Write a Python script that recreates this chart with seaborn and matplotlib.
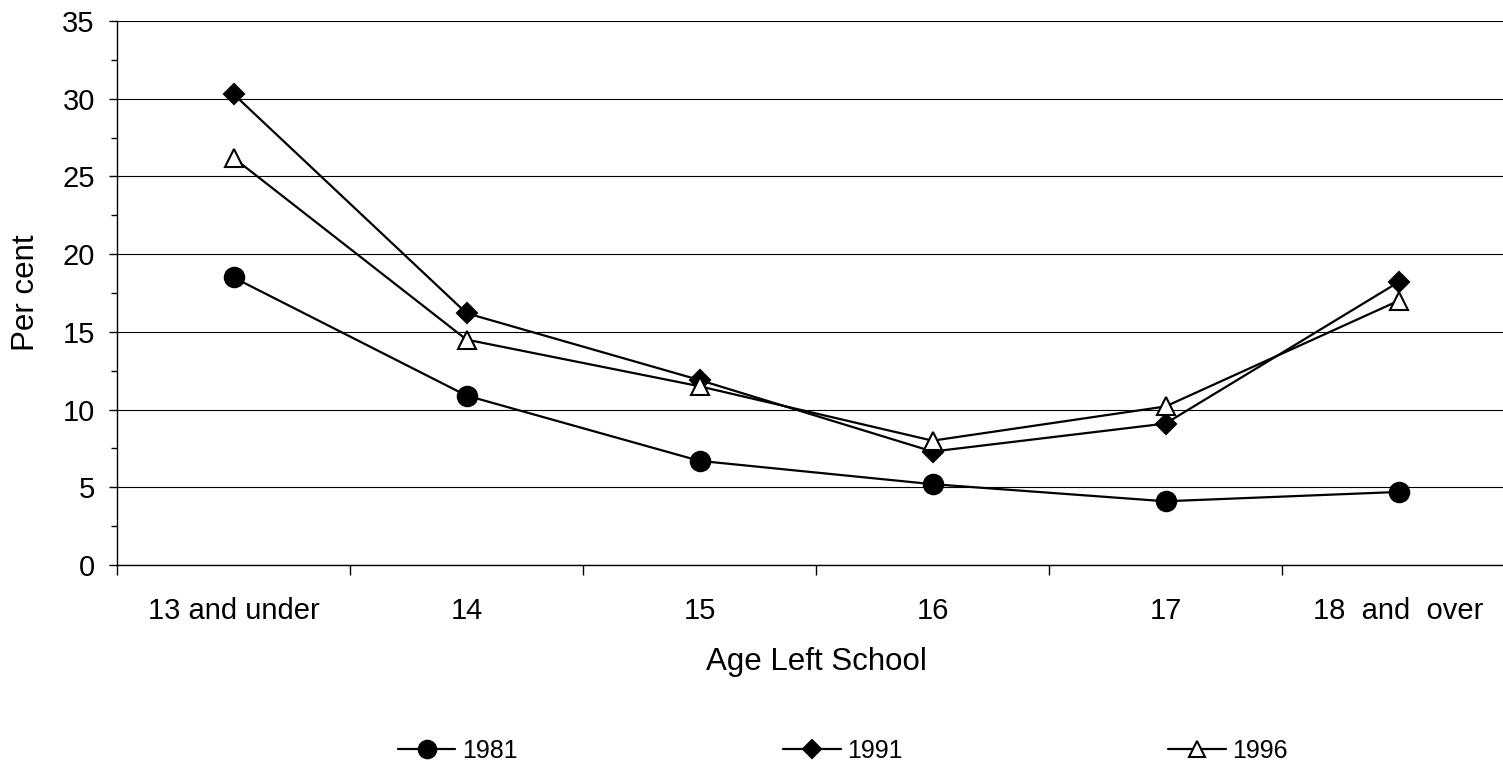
import numpy as np
import pandas as pd
import matplotlib
matplotlib.use("Agg")
import matplotlib.pyplot as plt
import seaborn as sns
from matplotlib.ticker import MultipleLocator, FixedLocator

categories = ["13 and under", "14", "15", "16", "17", "18  and  over"]
years = ["1981", "1991", "1996"]
pct_1981 = [18.5, 10.9, 6.7, 5.2, 4.1, 4.7]
pct_1991 = [30.3, 16.2, 11.9, 7.3, 9.1, 18.2]
pct_1996 = [26.2, 14.5, 11.5, 8.0, 10.2, 17.0]

frames = []
for yr, vals in zip(years, [pct_1981, pct_1991, pct_1996]):
    frames.append(pd.DataFrame({"age": np.arange(len(categories)),
                                "pct": vals, "year": yr}))
df = pd.concat(frames, ignore_index=True)

sns.set_theme(style="white")
plt.rcParams["font.family"] = ["Liberation Sans", "DejaVu Sans"]
plt.rcParams["text.color"] = "black"

fig = plt.figure(figsize=(15.03, 7.73), dpi=100)
ax = fig.add_axes([117 / 1503, 1 - 565 / 773, 1398 / 1503, 544 / 773])

marker_style = {
    "1981": dict(marker="o", markersize=14, markerfacecolor="black"),
    "1991": dict(marker="D", markersize=10, markerfacecolor="black"),
    "1996": dict(marker="^", markersize=13, markerfacecolor="white"),
}
for yr in years:
    sns.lineplot(data=df[df["year"] == yr], x="age", y="pct", ax=ax,
                 color="black", linewidth=1.6, markeredgecolor="black",
                 markeredgewidth=1.5, label=yr, zorder=3,
                 **marker_style[yr])

ax.set_xlim(-0.5, len(categories) - 0.5)
ax.set_ylim(0, 35)

# boundaries between categories carry the tick marks, labels sit at centres
ax.xaxis.set_major_locator(FixedLocator(np.arange(-0.5, len(categories), 1.0)))
ax.xaxis.set_minor_locator(FixedLocator(np.arange(len(categories))))
ax.set_xticklabels([], minor=False)
ax.set_xticklabels(categories, minor=True)
ax.tick_params(axis="x", which="major", direction="out", length=7, width=1,
               color="black", bottom=True)
ax.tick_params(axis="x", which="minor", length=0, pad=23, labelsize=21,
               labelcolor="black")

ax.yaxis.set_major_locator(MultipleLocator(5))
ax.yaxis.set_minor_locator(MultipleLocator(2.5))
ax.tick_params(axis="y", which="major", direction="out", length=6, width=1,
               color="black", left=True, pad=10, labelsize=21, labelcolor="black")
ax.tick_params(axis="y", which="minor", direction="out", length=4.3, width=1,
               color="black", left=True)

ax.grid(axis="y", which="major", color="black", linewidth=0.8)
ax.set_axisbelow(True)
for side in ["top", "right"]:
    ax.spines[side].set_visible(False)
for side in ["left", "bottom"]:
    ax.spines[side].set_color("black")
    ax.spines[side].set_linewidth(1.0)

ax.set_xlabel("Age Left School", fontsize=22.5, color="black", labelpad=16)
ax.set_ylabel("Per cent", fontsize=22.5, color="black", labelpad=15)

handles, labels = ax.get_legend_handles_labels()
ax.legend(handles, labels, loc="center", bbox_to_anchor=(843 / 1503, 1 - 751 / 773),
          bbox_transform=fig.transFigure, ncol=3, frameon=False, fontsize=18,
          handlelength=2.3, handletextpad=0.28, columnspacing=10.6,
          markerscale=0.9, borderpad=0, labelcolor="black")

fig.savefig("out.png", dpi=100)
